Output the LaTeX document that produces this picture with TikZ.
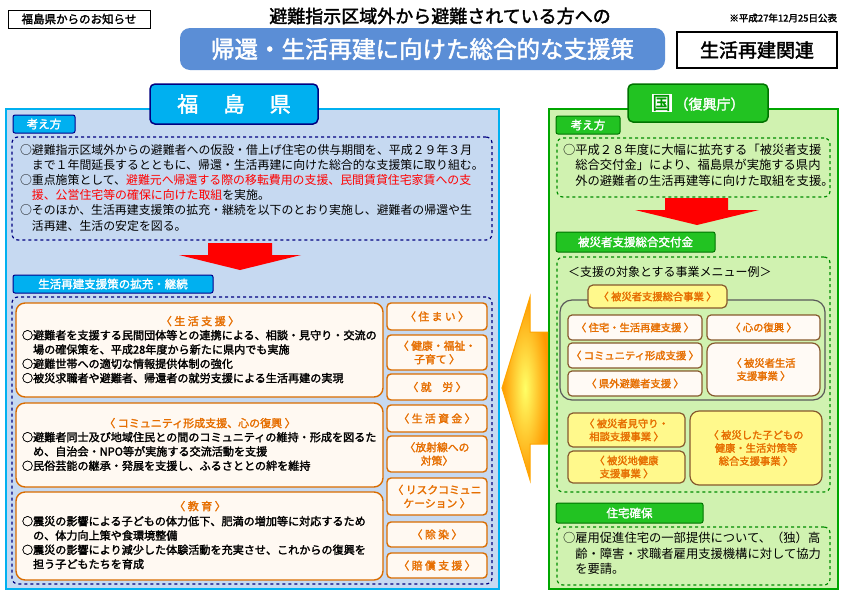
\documentclass[tikz,border=0pt]{standalone}
\usepackage{fontspec}
\setmainfont{Noto Sans CJK JP}[AutoFakeBold=2]
\definecolor{lpfill}{RGB}{198,217,241}
\definecolor{rpfill}{RGB}{208,242,176}
\definecolor{bannerc}{RGB}{91,142,214}
\definecolor{cyanc}{RGB}{0,176,240}
\definecolor{greenc}{RGB}{34,195,34}
\definecolor{orc}{RGB}{230,110,0}
\begin{document}
\begin{tikzpicture}[x=1pt,y=-1pt,
  every node/.style={inner sep=0pt,outer sep=0pt},
  box/.style={anchor=north west,rounded corners=6pt},
  tabB/.style={box,fill=cyanc,draw=blue!55!black,line width=1pt,text=white,font=\bfseries\fontsize{11.5}{13}\selectfont,rounded corners=2pt},
  tabG/.style={box,fill=greenc,draw=green!45!black,line width=1pt,text=white,font=\bfseries\fontsize{11.5}{13}\selectfont,rounded corners=2pt},
  dashB/.style={box,draw=blue!50!black,dashed,line width=1.2pt},
  dashG/.style={box,draw=green!55!black,dashed,line width=1.2pt},
  txt/.style={anchor=north west,align=left,font=\fontsize{11.9}{15.2}\selectfont},
  ctxt/.style={anchor=north west,align=left,font=\bfseries\fontsize{11.1}{14.3}\selectfont},
  card/.style={box,fill=orange!5,draw=orange!85!black,line width=1.4pt,rounded corners=9pt},
  scard/.style={box,fill=orange!5,draw=orange!85!black,line width=1.4pt,rounded corners=4pt,align=center,text=orc,font=\bfseries\fontsize{10.8}{13.5}\selectfont},
  wcard/.style={box,fill=orange!4,draw=brown!70!black,line width=1.2pt,rounded corners=4pt,align=center,text=orc,font=\bfseries\fontsize{10.3}{13}\selectfont},
  ycard/.style={box,fill=yellow!45,draw=brown!70!black,line width=1.2pt,rounded corners=5pt,align=center,text=orc,font=\bfseries\fontsize{10.3}{13}\selectfont},
  ctitle/.style={anchor=north,text=orc,font=\bfseries\fontsize{11}{13}\selectfont},
]
\useasboundingbox (0,0) rectangle (842,595);
\fill[white] (0,0) rectangle (842,595);
% header
\node[box,rounded corners=0pt,draw,line width=0.8pt,minimum width=142,minimum height=18,font=\bfseries\fontsize{11.5}{12}\selectfont] (notice) at (8,10) {福島県からのお知らせ};
\node[font=\bfseries\fontsize{18}{20}\selectfont] (title1) at (440,16) {避難指示区域外から避難されている方への};
\node[font=\bfseries\fontsize{9.5}{11}\selectfont,anchor=east] (date) at (837,18) {※平成27年12月25日公表};
\node[box,rounded corners=10pt,fill=bannerc,minimum width=485,minimum height=42,text=white,font=\bfseries\fontsize{23.5}{25}\selectfont] (banner) at (180,28) {帰還・生活再建に向けた総合的な支援策};
\node[box,rounded corners=0pt,draw,line width=1.5pt,minimum width=160,minimum height=36,font=\bfseries\fontsize{19}{21}\selectfont] (rel) at (677,32) {生活再建関連};
% left panel
\node[box,rounded corners=0pt,fill=lpfill,draw=cyanc,line width=2.5pt,minimum width=493,minimum height=480] (lp) at (6,109) {};
\node[box,rounded corners=5pt,fill=cyanc,draw=blue!50!black,line width=1.5pt,minimum width=168,minimum height=40,text=white,font=\bfseries\fontsize{21}{23}\selectfont] (fk) at (150,84) {福\hspace{1.2em}島\hspace{1.2em}県};
\node[tabB,minimum width=62,minimum height=18] (k1) at (13,115) {考え方};
\node[dashB,minimum width=480,minimum height=103] (d1) at (12,137) {};
\node[txt] (t1) at (20,144) {○避難指示区域外からの避難者への仮設・借上げ住宅の供与期間を、平成２９年３月\\
\phantom{○}まで１年間延長するとともに、帰還・生活再建に向けた総合的な支援策に取り組む。\\
○重点施策として、\textcolor{red}{避難元へ帰還する際の移転費用の支援、民間賃貸住宅家賃への支}\\
\phantom{○}\textcolor{red}{援、公営住宅等の確保に向けた取組}を実施。\\
○そのほか、生活再建支援策の拡充・継続を以下のとおり実施し、避難者の帰還や生\\
\phantom{○}活再建、生活の安定を図る。};
\fill[red] (208,243) -- (272,243) -- (272,255) -- (301,255) -- (240,270) -- (179,255) -- (208,255) -- cycle;
\node[tabB,minimum width=200,minimum height=18] (k2) at (13,275) {生活再建支援策の拡充・継続};
\node[dashB,minimum width=480,minimum height=287] (d2) at (12,297) {};
% cards
\node[card,minimum width=367,minimum height=94] (c1) at (16,303) {};
\node[ctitle] (c1t) at (200,316) {〈 生 活 支 援 〉};
\node[ctxt] (c1x) at (22,330) {○避難者を支援する民間団体等との連携による、相談・見守り・交流の\\
\phantom{○}場の確保策を、平成28年度から新たに県内でも実施\\
○避難世帯への適切な情報提供体制の強化\\
○被災求職者や避難者、帰還者の就労支援による生活再建の実現};
\node[card,minimum width=367,minimum height=84] (c2) at (16,403) {};
\node[ctitle] (c2t) at (200,418) {〈 コミュニティ形成支援、心の復興 〉};
\node[ctxt] (c2x) at (22,432) {○避難者同士及び地域住民との間のコミュニティの維持・形成を図るた\\
\phantom{○}め、自治会・NPO等が実施する交流活動を支援\\
○民俗芸能の継承・発展を支援し、ふるさととの絆を維持};
\node[card,minimum width=367,minimum height=88] (c3) at (16,492) {};
\node[ctitle] (c3t) at (200,501) {〈 教 育 〉};
\node[ctxt] (c3x) at (22,516) {○震災の影響による子どもの体力低下、肥満の増加等に対応するため\\
\phantom{○}の、体力向上策や食環境整備\\
○震災の影響により減少した体験活動を充実させ、これからの復興を\\
\phantom{○}担う子どもたちを育成};
\node[scard,minimum width=100,minimum height=27] (s1) at (387,303) {〈 住 ま い 〉};
\node[scard,minimum width=100,minimum height=35] (s2) at (387,335) {〈 健康・福祉・\\子育て 〉};
\node[scard,minimum width=100,minimum height=26] (s3) at (387,374) {〈 就\hspace{1em}労 〉};
\node[scard,minimum width=100,minimum height=27] (s4) at (387,405) {〈 生 活 資 金 〉};
\node[scard,minimum width=100,minimum height=36] (s5) at (387,436) {〈放射線への\\対策〉};
\node[scard,minimum width=100,minimum height=37] (s6) at (387,478) {〈 リスクコミュニ\\ケーション 〉};
\node[scard,minimum width=100,minimum height=25] (s7) at (387,522) {〈 除 染 〉};
\node[scard,minimum width=100,minimum height=25] (s8) at (387,553) {〈 賠 償 支 援 〉};
% right panel
\node[box,rounded corners=0pt,fill=rpfill,draw=green!65!black,line width=2.5pt,minimum width=289,minimum height=480] (rp) at (549,109) {};
\node[box,rounded corners=5pt,fill=greenc,draw=green!45!black,line width=1.5pt,minimum width=140,minimum height=38,text=white,font=\bfseries\fontsize{18}{20}\selectfont] (kuni) at (628,84) {\fboxsep=1pt\colorbox{white}{\textcolor{green!60!black}{国}}\,\fontsize{14}{16}\selectfont（復興庁）};
\node[tabG,minimum width=64,minimum height=18] (k3) at (556,116) {考え方};
\node[dashG,minimum width=273,minimum height=59] (d3) at (557,138) {};
\node[txt,font=\fontsize{12.3}{15.5}\selectfont] (t3) at (563,144) {○平成２８年度に大幅に拡充する「被災者支援\\
\phantom{○}総合交付金」により、福島県が実施する県内\\
\phantom{○}外の避難者の生活再建等に向けた取組を支援。};
\fill[red] (665,198) -- (728,198) -- (728,210) -- (759,210) -- (697,225) -- (635,210) -- (665,210) -- cycle;
\node[tabG,minimum width=159,minimum height=20] (k4) at (556,232) {被災者支援総合交付金};
\node[dashG,minimum width=273,minimum height=235] (d4) at (557,257) {};
\node[anchor=west,font=\fontsize{12}{14}\selectfont] (menu) at (568,272) {＜支援の対象とする事業メニュー例＞};
\node[box,rounded corners=12pt,draw=gray!70!black,line width=1.2pt,minimum width=265,minimum height=100] (grp) at (560,300) {};
\node[ycard,minimum width=139,minimum height=23] (y0) at (588,285) {〈 被災者支援総合事業 〉};
\node[wcard,minimum width=134,minimum height=25] (w1) at (568,315) {〈 住宅・生活再建支援 〉};
\node[wcard,minimum width=113,minimum height=25] (w2) at (707,315) {〈 心の復興 〉};
\node[wcard,minimum width=134,minimum height=25] (w3) at (568,343) {〈 コミュニティ形成支援 〉};
\node[wcard,minimum width=134,minimum height=25] (w4) at (568,371) {〈 県外避難者支援 〉};
\node[wcard,minimum width=113,minimum height=53,rounded corners=8pt] (w5) at (707,343) {〈 被災者生活\\支援事業 〉};
\node[ycard,minimum width=117,minimum height=34] (y1) at (568,413) {〈 被災者見守り・\\相談支援事業 〉};
\node[ycard,minimum width=117,minimum height=32] (y2) at (568,451) {〈 被災地健康\\支援事業 〉};
\node[ycard,minimum width=132,minimum height=74,rounded corners=9pt] (y3) at (690,411) {〈 被災した子どもの\\健康・生活対策等\\総合支援事業 〉};
\node[tabG,minimum width=147,minimum height=20] (k5) at (556,503) {住宅確保};
\node[dashG,minimum width=273,minimum height=58] (d5) at (557,527) {};
\node[txt,font=\fontsize{12.3}{15.5}\selectfont] (t5) at (563,532) {○雇用促進住宅の一部提供について、（独）高\\
\phantom{○}齢・障害・求職者雇用支援機構に対して協力\\
\phantom{○}を要請。};
% yellow arrow
\draw[draw=orange!70!yellow,line width=1pt,inner color=yellow!60,outer color=orange!80!yellow]
  (548,332) -- (530,332) -- (530,297) -- (502,388) -- (530,480) -- (530,444) -- (548,444);
\end{tikzpicture}
\end{document}
